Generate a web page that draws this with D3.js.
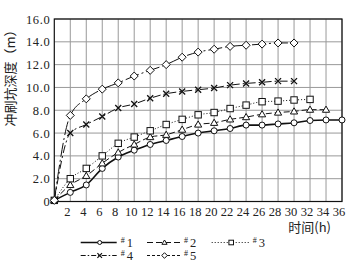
<!DOCTYPE html>
<html>
<head>
<meta charset="utf-8">
<script src="https://cdn.jsdelivr.net/npm/d3@7"></script>
<style>
  body { margin: 0; background: #fff; }
  svg { display: block; }
  .tk { font-family: "Liberation Serif", "DejaVu Serif", serif; font-size: 12.5px; fill: #222; }
  .cjk { font-family: "Noto Sans CJK SC", sans-serif; font-size: 13px; fill: #222; }
</style>
</head>
<body>
<svg id="chart" width="356" height="263"></svg>
<script>
// 冲刷坑深度随时间变化
const hours = [0, 2, 4, 6, 8, 10, 12, 14, 16, 18, 20, 22, 24, 26, 28, 30, 32, 34, 36];
const s1 = [0.1, 0.8, 1.45, 2.9, 3.9, 4.5, 5.0, 5.35, 5.7, 6.0, 6.2, 6.4, 6.7, 6.7, 6.8, 6.9, 7.1, 7.15, 7.15];
const s2 = [0.1, 1.45, 2.25, 3.35, 4.3, 5.0, 5.65, 5.85, 6.3, 6.75, 6.9, 7.2, 7.4, 7.65, 7.8, 7.9, 8.05, 8.05];
const s3 = [0.1, 2.0, 2.9, 4.0, 5.1, 5.65, 6.2, 6.75, 7.2, 7.6, 7.8, 8.15, 8.45, 8.75, 8.8, 8.9, 8.95];
const s4 = [0.1, 6.0, 6.75, 7.45, 8.2, 8.55, 9.05, 9.45, 9.65, 9.8, 9.95, 10.2, 10.35, 10.45, 10.55, 10.55];
const s5 = [0.1, 7.55, 9.0, 9.85, 10.4, 11.0, 11.5, 12.0, 12.65, 13.1, 13.35, 13.6, 13.7, 13.8, 13.9, 13.9];
const names = ["#1", "#2", "#3", "#4", "#5"];
const yTicks = [0, 2, 4, 6, 8, 10, 12, 14, 16];
const xTicks = [2, 4, 6, 8, 10, 12, 14, 16, 18, 20, 22, 24, 26, 28, 30, 32, 34, 36];

const svg = d3.select("#chart");
const margin = {top: 19, right: 14, bottom: 61.5, left: 54.3};
const W = 356, H = 263;

const x = d3.scaleLinear().domain([0, 36]).range([margin.left, W - margin.right]);
const y = d3.scaleLinear().domain([0, 16]).range([H - margin.bottom, margin.top]);

const series = [
  {name: names[0], vals: s1, dash: null, mark: "circle", w: 1.6},
  {name: names[1], vals: s2, dash: "6,3", mark: "triangle", w: 1},
  {name: names[2], vals: s3, dash: "1,2", mark: "square", w: 1},
  {name: names[3], vals: s4, dash: "8,3,2,3", mark: "x", w: 1},
  {name: names[4], vals: s5, dash: "14,3,2,3", mark: "diamond", w: 1}
];

// grid
const grid = svg.append("g");
grid.selectAll(".gx").data(xTicks).join("line")
  .attr("x1", d => x(d)).attr("x2", d => x(d))
  .attr("y1", y(0)).attr("y2", y(16))
  .attr("stroke", "#999").attr("stroke-width", 1);
grid.selectAll(".gy").data(yTicks.slice(1)).join("line")
  .attr("y1", d => y(d)).attr("y2", d => y(d))
  .attr("x1", x(0)).attr("x2", x(36))
  .attr("stroke", "#999").attr("stroke-width", 1);

svg.append("rect")
  .attr("x", x(0)).attr("y", y(16))
  .attr("width", x(36) - x(0)).attr("height", y(0) - y(16))
  .attr("fill", "none").attr("stroke", "#111").attr("stroke-width", 1.2);

// tick labels
svg.selectAll(".yl").data(yTicks).join("text")
  .attr("class", "tk")
  .attr("x", x(0) - 4).attr("y", d => y(d) + 4.5)
  .attr("text-anchor", "end")
  .attr("letter-spacing", 0.6)
  .text(d => d === 0 ? "0" : d.toFixed(1));
svg.selectAll(".xl").data(xTicks).join("text")
  .attr("class", "tk")
  .attr("font-size", 11.5)
  .attr("x", d => x(d) - 3).attr("y", y(0) + 14)
  .attr("text-anchor", "middle")
  .text(d => d);

svg.append("text").attr("class", "cjk")
  .attr("transform", `translate(15,${(y(16) + 123) / 2 + 4}) rotate(-90)`)
  .attr("text-anchor", "middle")
  .text("冲刷坑深度（m）");
svg.append("text").attr("class", "cjk")
  .attr("x", 331).attr("y", 232)
  .attr("text-anchor", "end")
  .text("时间(h)");

// markers
function marker(g, type, cx, cy) {
  if (type === "circle") {
    g.append("circle").attr("cx", cx).attr("cy", cy).attr("r", 3)
      .attr("fill", "#fff").attr("stroke", "#111").attr("stroke-width", 1);
  } else if (type === "triangle") {
    g.append("path").attr("d", `M${cx},${cy - 3.6}L${cx + 3.6},${cy + 2.6}L${cx - 3.6},${cy + 2.6}Z`)
      .attr("fill", "#fff").attr("stroke", "#111").attr("stroke-width", 1);
  } else if (type === "square") {
    g.append("rect").attr("x", cx - 3.2).attr("y", cy - 3.2).attr("width", 6.4).attr("height", 6.4)
      .attr("fill", "#fff").attr("stroke", "#111").attr("stroke-width", 1);
  } else if (type === "diamond") {
    g.append("path").attr("d", `M${cx},${cy - 4}L${cx + 4},${cy}L${cx},${cy + 4}L${cx - 4},${cy}Z`)
      .attr("fill", "#fff").attr("stroke", "#111").attr("stroke-width", 1);
  } else if (type === "x") {
    g.append("path").attr("d", `M${cx - 3},${cy - 3}L${cx + 3},${cy + 3}M${cx + 3},${cy - 3}L${cx - 3},${cy + 3}`)
      .attr("stroke", "#111").attr("stroke-width", 1.3);
  }
}

const line = d3.line()
  .x((d, i) => x(hours[i]))
  .y(d => y(d))
  .curve(d3.curveMonotoneX);

series.forEach(s => {
  const g = svg.append("g");
  g.append("path")
    .attr("d", line(s.vals))
    .attr("fill", "none")
    .attr("stroke", "#111")
    .attr("stroke-width", s.w)
    .attr("stroke-dasharray", s.dash);
  s.vals.forEach((v, i) => marker(g, s.mark, x(hours[i]), y(v)));
});

// legend
const legPos = [[80.7, 242.5], [147, 242.5], [211.7, 242.5], [80.7, 255.5], [147, 255.5]];
const legLen = [36, 33, 37, 36, 33];
series.forEach((s, i) => {
  const [lx, ly] = legPos[i];
  const g = svg.append("g");
  g.append("line")
    .attr("x1", lx).attr("x2", lx + legLen[i])
    .attr("y1", ly).attr("y2", ly)
    .attr("stroke", "#111")
    .attr("stroke-width", i === 0 ? 1.4 : 1)
    .attr("stroke-dasharray", i === 4 ? "3,2" : (i === 3 ? "5,2,1.5,2" : s.dash));
  const cx = lx + legLen[i] / 2 + 1;
  if (s.mark === "circle") {
    g.append("circle").attr("cx", cx).attr("cy", ly).attr("r", 2).attr("fill", "#fff").attr("stroke", "#111");
  } else if (s.mark === "triangle") {
    g.append("path").attr("d", `M${cx},${ly - 2.5}L${cx + 2.6},${ly + 1.8}L${cx - 2.6},${ly + 1.8}Z`).attr("fill", "#fff").attr("stroke", "#111");
  } else if (s.mark === "square") {
    g.append("rect").attr("x", cx - 2.3).attr("y", ly - 2.3).attr("width", 4.6).attr("height", 4.6).attr("fill", "#fff").attr("stroke", "#111");
  } else if (s.mark === "diamond") {
    g.append("path").attr("d", `M${cx},${ly - 2.8}L${cx + 2.8},${ly}L${cx},${ly + 2.8}L${cx - 2.8},${ly}Z`).attr("fill", "#fff").attr("stroke", "#111");
  } else {
    g.append("path").attr("d", `M${cx - 2.3},${ly - 2.3}L${cx + 2.3},${ly + 2.3}M${cx + 2.3},${ly - 2.3}L${cx - 2.3},${ly + 2.3}`).attr("stroke", "#111").attr("stroke-width", 1.2);
  }
  const t = g.append("text").attr("class", "tk").attr("x", lx + legLen[i] + 4).attr("y", ly + 4);
  t.append("tspan").attr("font-size", 8).attr("dy", -4).text("#");
  t.append("tspan").attr("dx", 2).attr("dy", 4).attr("font-size", 12.5).text(s.name.slice(1));
});
</script>
</body>
</html>
